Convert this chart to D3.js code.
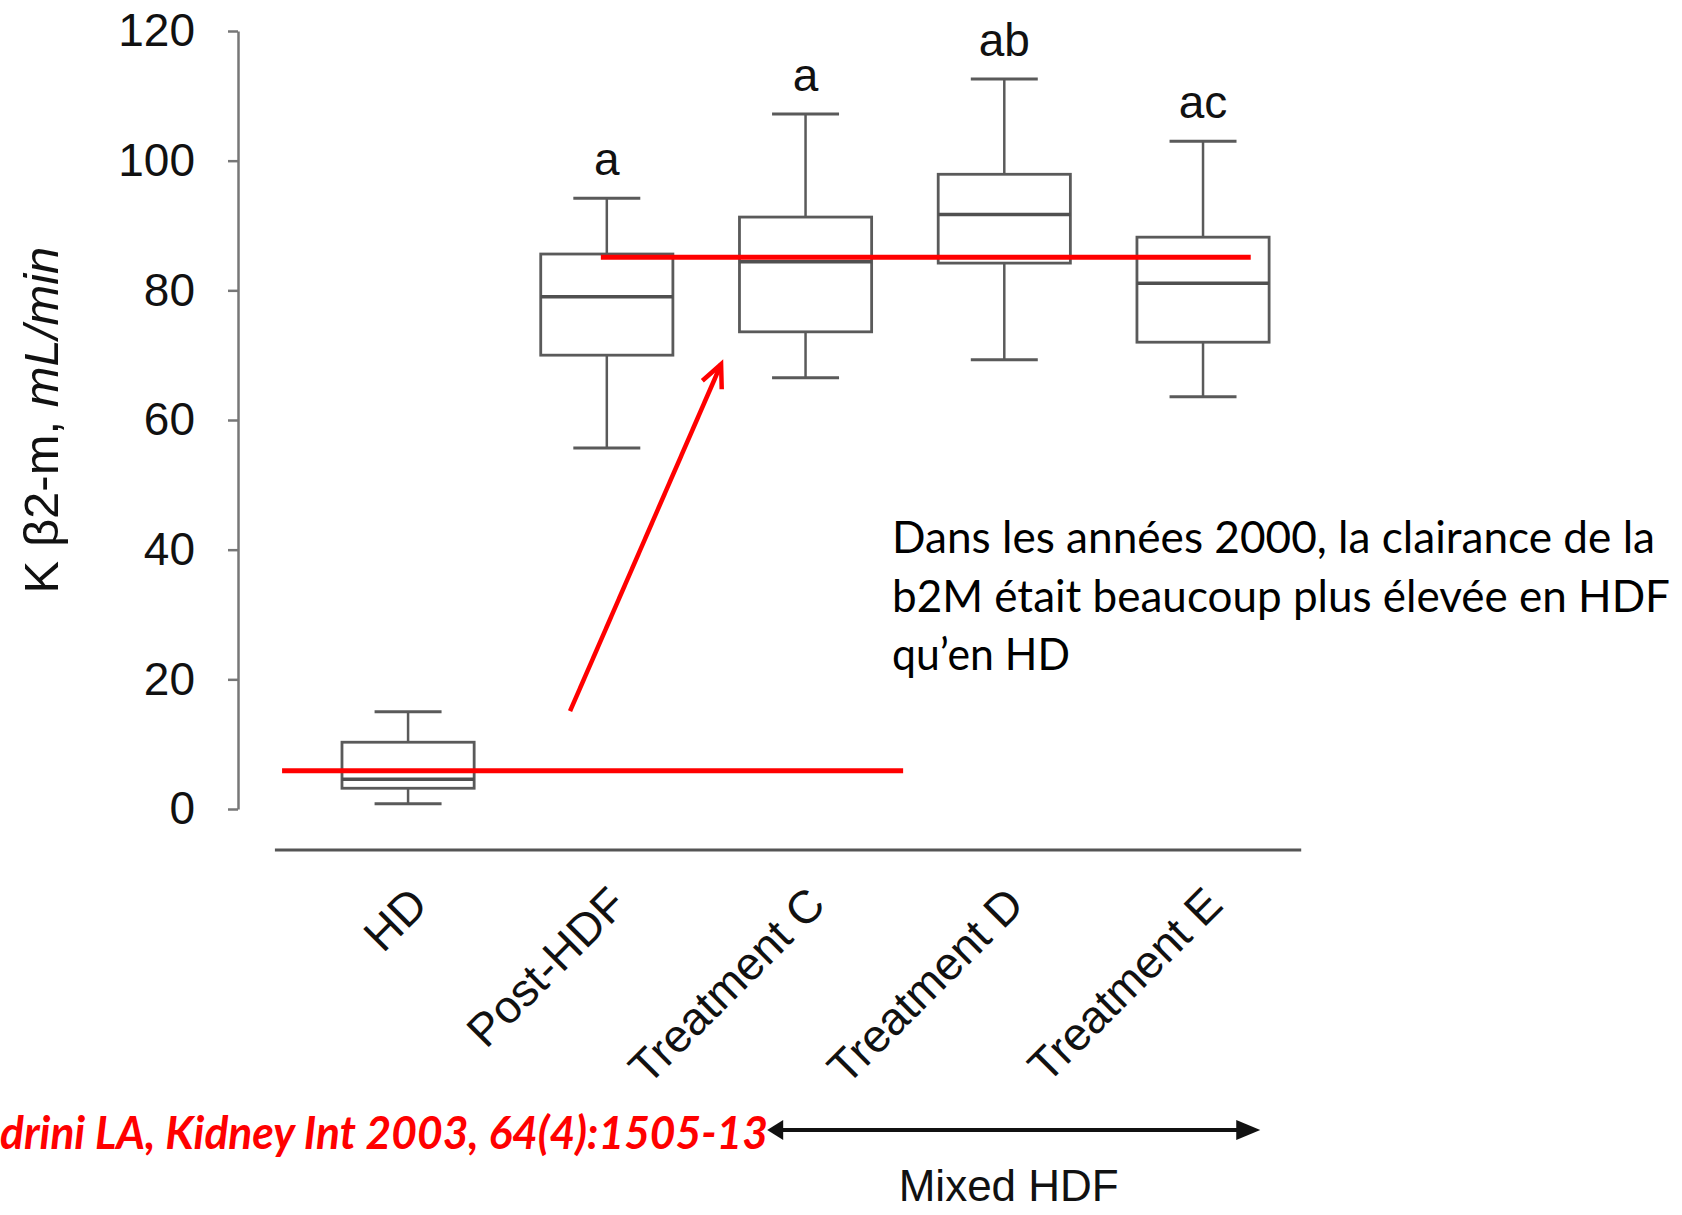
<!DOCTYPE html>
<html><head><meta charset="utf-8">
<script src="https://cdn.jsdelivr.net/npm/d3@7"></script>
<style>html,body{margin:0;padding:0;background:#fff;} svg{display:block}</style>
</head><body>
<svg id="chart" width="1682" height="1215"></svg>
<script>
// ---- data ----
const categories = ["HD", "Post-HDF", "Treatment C", "Treatment D", "Treatment E"];
const whiskerLow  = [0.8, 55.7, 66.5, 69.3, 63.6];
const q1          = [3.2, 70.0, 73.6, 84.2, 72.0];
const medians     = [4.6, 79.0, 84.4, 91.7, 81.1];
const q3          = [10.3, 85.6, 91.3, 97.9, 88.2];
const whiskerHigh = [15.0, 94.2, 107.2, 112.6, 103.0];
const significance = ["", "a", "a", "ab", "ac"];
const yTicks = [0, 20, 40, 60, 80, 100, 120];
const yTitle = ["K β2-m, ", "mL/min"];
// red reference lines: value, start/end in category-index units
const refLineValues = [85.1, 5.9];
const refLineFrom = [0.97, -0.634];
const refLineTo = [4.24, 2.491];
// red trend arrow (category index, value)
const trendFrom = [0.815, 15.1];
const trendTo = [1.575, 68.6];
const noteLines = ["Dans les années 2000, la clairance de la", "b2M était beaucoup plus élevée en HDF", "qu’en HD"];
const citation = "drini LA, Kidney Int 2003, 64(4):1505-13";
const groupLabel = "Mixed HDF";
const groupFrom = 1.807, groupTo = 4.288;

// ---- layout ----
const svg = d3.select("#chart");
const sans = "'Liberation Sans', Arial, Helvetica, sans-serif";
const y = d3.scaleLinear().domain([0, 120]).range([809, 31]);
const x = d3.scaleBand().domain(categories).range([308.7, 1302.4]).padding(0);
const cx = d => x(d) + x.bandwidth() / 2;
const xi = d3.scaleLinear().domain([0, categories.length - 1]).range([cx(categories[0]), cx(categories[categories.length - 1])]);
const boxW = x.bandwidth() * 0.665;
const capW = x.bandwidth() * 0.337;
const grey = "#5a5a5a";

// y axis
const yAxis = svg.append("g").attr("transform", "translate(238,0)")
  .call(d3.axisLeft(y).tickValues(yTicks).tickSize(10).tickSizeOuter(0).tickPadding(33));
yAxis.select(".domain").attr("stroke", "#777").attr("stroke-width", 2.5);
yAxis.selectAll(".tick line").attr("stroke", "#777").attr("stroke-width", 2.5);
yAxis.selectAll(".tick text").attr("font-family", sans).attr("font-size", 46).attr("fill", "#111");

// y title
const yt = svg.append("text")
  .attr("transform", `translate(58,${y(60)}) rotate(-90)`)
  .attr("text-anchor", "middle").attr("font-family", sans).attr("font-size", 49).attr("fill", "#111");
yt.append("tspan").text(yTitle[0]);
yt.append("tspan").attr("font-style", "italic").text(yTitle[1]);

// x axis baseline
svg.append("line")
  .attr("x1", xi(-0.67)).attr("x2", xi(4.494))
  .attr("y1", 850).attr("y2", 850)
  .attr("stroke", "#555").attr("stroke-width", 3);

// x labels
svg.append("g").selectAll("text").data(categories).join("text")
  .attr("transform", d => `translate(${cx(d) + 22},907) rotate(-45)`)
  .attr("text-anchor", "end").attr("font-family", sans).attr("font-size", 46).attr("fill", "#111")
  .text(d => d);

// boxes
const g = svg.append("g").selectAll("g").data(categories).join("g");
g.append("line").attr("x1", cx).attr("x2", cx)
  .attr("y1", (d, i) => y(whiskerHigh[i])).attr("y2", (d, i) => y(q3[i]))
  .attr("stroke", grey).attr("stroke-width", 2.5);
g.append("line").attr("x1", cx).attr("x2", cx)
  .attr("y1", (d, i) => y(q1[i])).attr("y2", (d, i) => y(whiskerLow[i]))
  .attr("stroke", grey).attr("stroke-width", 2.5);
g.append("line").attr("x1", d => cx(d) - capW / 2).attr("x2", d => cx(d) + capW / 2)
  .attr("y1", (d, i) => y(whiskerHigh[i])).attr("y2", (d, i) => y(whiskerHigh[i]))
  .attr("stroke", grey).attr("stroke-width", 3);
g.append("line").attr("x1", d => cx(d) - capW / 2).attr("x2", d => cx(d) + capW / 2)
  .attr("y1", (d, i) => y(whiskerLow[i])).attr("y2", (d, i) => y(whiskerLow[i]))
  .attr("stroke", grey).attr("stroke-width", 3);
g.append("rect").attr("x", d => cx(d) - boxW / 2).attr("width", boxW)
  .attr("y", (d, i) => y(q3[i])).attr("height", (d, i) => y(q1[i]) - y(q3[i]))
  .attr("fill", "#fff").attr("stroke", grey).attr("stroke-width", 2.8);
g.append("line").attr("x1", d => cx(d) - boxW / 2).attr("x2", d => cx(d) + boxW / 2)
  .attr("y1", (d, i) => y(medians[i])).attr("y2", (d, i) => y(medians[i]))
  .attr("stroke", "#505050").attr("stroke-width", 3.5);
g.append("text").attr("x", cx).attr("y", (d, i) => y(whiskerHigh[i]) - 23)
  .attr("text-anchor", "middle").attr("font-family", sans).attr("font-size", 46).attr("fill", "#111")
  .text((d, i) => significance[i]);

// red reference lines
svg.append("g").selectAll("line").data(refLineValues).join("line")
  .attr("x1", (d, i) => xi(refLineFrom[i])).attr("x2", (d, i) => xi(refLineTo[i]))
  .attr("y1", d => y(d)).attr("y2", d => y(d))
  .attr("stroke", "#ff0000").attr("stroke-width", 5);

// red trend arrow with open head
const ax0 = xi(trendFrom[0]), ay0 = y(trendFrom[1]);
const ax1 = xi(trendTo[0]), ay1 = y(trendTo[1]);
const ang = Math.atan2(ay0 - ay1, ax0 - ax1);
const hl = 25, ha = 25 * Math.PI / 180;
svg.append("line").attr("x1", ax0).attr("y1", ay0).attr("x2", ax1).attr("y2", ay1)
  .attr("stroke", "#ff0000").attr("stroke-width", 4.5);
svg.append("path")
  .attr("d", `M${ax1 + hl * Math.cos(ang + ha)},${ay1 + hl * Math.sin(ang + ha)}L${ax1},${ay1}L${ax1 + hl * Math.cos(ang - ha)},${ay1 + hl * Math.sin(ang - ha)}`)
  .attr("fill", "none").attr("stroke", "#ff0000").attr("stroke-width", 4.5).attr("stroke-linejoin", "miter");

// annotation text
const noteLengths = [763, 778, 178];
svg.append("g").selectAll("text").data(noteLines).join("text")
  .attr("x", 892).attr("y", (d, i) => 553 + i * 58.5)
  .attr("font-family", "Lato, 'Open Sans', sans-serif").attr("font-size", 44).attr("fill", "#000")
  .attr("textLength", (d, i) => noteLengths[i]).attr("lengthAdjust", "spacingAndGlyphs")
  .text(d => d);

// Mixed HDF double arrow
const gx0 = xi(groupFrom), gx1 = xi(groupTo), gy = 1130;
svg.append("line").attr("x1", gx0 + 10).attr("x2", gx1 - 10).attr("y1", gy).attr("y2", gy)
  .attr("stroke", "#111").attr("stroke-width", 4);
svg.append("path").attr("d", `M${gx1},${gy}L${gx1 - 24},${gy - 10}L${gx1 - 24},${gy + 10}Z`).attr("fill", "#111");
svg.append("path").attr("d", `M${gx0},${gy}L${gx0 + 16},${gy - 10}L${gx0 + 16},${gy + 10}Z`).attr("fill", "#111");
svg.append("text").attr("x", (gx0 + gx1) / 2 - 5).attr("y", 1201).attr("text-anchor", "middle")
  .attr("font-family", sans).attr("font-size", 44).attr("fill", "#111").text(groupLabel);

// citation
svg.append("text").attr("x", 0).attr("y", 1149)
  .attr("font-family", "Lato, 'Open Sans', sans-serif").attr("font-size", 45)
  .attr("font-weight", "bold").attr("font-style", "italic").attr("fill", "#ff0000")
  .attr("textLength", 768).attr("lengthAdjust", "spacingAndGlyphs")
  .text(citation);
</script>
</body></html>
